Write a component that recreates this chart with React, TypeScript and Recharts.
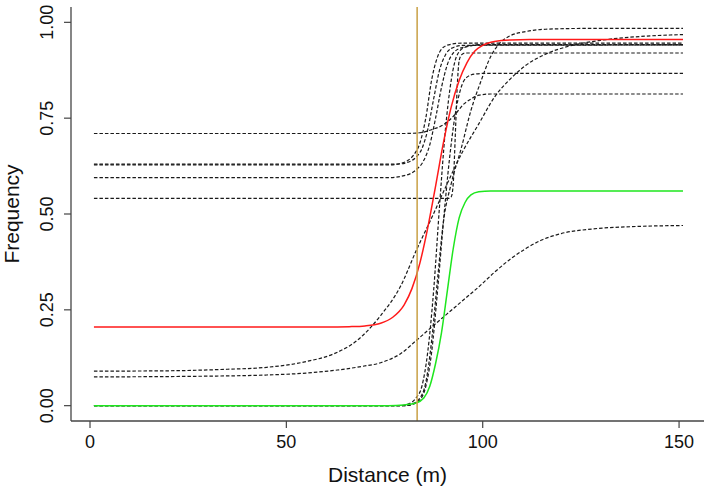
import React from 'react';
import { LineChart, Line, XAxis, YAxis, ReferenceLine, Label } from 'recharts';

type P = [number, number][];

const xTicks = [0, 50, 100, 150];
const yTicks = [0, 0.25, 0.5, 0.75, 1];
const thresholdDistance = 83.3;

// solid curves
const redCurve: P = [
  [1, 0.205], [60, 0.205], [66, 0.206], [70, 0.208], [74, 0.215], [77, 0.23], [80, 0.263],
  [82, 0.306], [84, 0.372], [86, 0.464], [88, 0.573], [90, 0.686], [92, 0.78], [94, 0.848],
  [96, 0.895], [98, 0.925], [100, 0.94], [103, 0.95], [107, 0.954], [112, 0.955], [151, 0.955],
];
const greenCurve: P = [
  [1, 0.0], [76, 0.0], [80, 0.002], [83, 0.007], [85, 0.02], [86.5, 0.05], [88, 0.11],
  [89.5, 0.19], [91, 0.3], [92.5, 0.41], [94, 0.49], [95.5, 0.53], [97, 0.55], [99, 0.558],
  [102, 0.56], [151, 0.56],
];

// dashed curves
const dashA: P = [
  [1, 0.71], [80, 0.71], [84, 0.712], [87, 0.72], [90, 0.733], [93, 0.76], [95, 0.785],
  [97, 0.8], [99, 0.81], [102, 0.813], [151, 0.813],
];
const dashB: P = [
  [1, 0.628], [76, 0.628], [79, 0.632], [81, 0.64], [82.5, 0.655], [84, 0.685], [85.5, 0.75],
  [87, 0.85], [88.5, 0.91], [90, 0.935], [92, 0.943], [95, 0.946], [151, 0.946],
];
const dashC: P = [
  [1, 0.63], [78, 0.63], [81, 0.635], [83, 0.648], [84.5, 0.67], [86, 0.72], [87.5, 0.8],
  [89, 0.875], [90.5, 0.915], [92, 0.932], [95, 0.94], [151, 0.941],
];
const dashD: P = [
  [1, 0.595], [76, 0.595], [80, 0.6], [83, 0.615], [85, 0.64], [86.5, 0.68], [88, 0.75],
  [89.5, 0.83], [91, 0.89], [92.5, 0.92], [95, 0.935], [100, 0.942], [151, 0.942],
];
const dashE: P = [
  [1, 0.541], [91.5, 0.541], [92, 0.545], [92.5, 0.58], [93, 0.7], [93.5, 0.83], [94, 0.9],
  [94.6, 0.915], [95.5, 0.92], [151, 0.92],
];
const dashF: P = [
  [1, 0.0], [80, 0.0], [82, 0.003], [84, 0.015], [85.5, 0.05], [87, 0.14], [88.5, 0.3],
  [90, 0.48], [91.5, 0.64], [93, 0.76], [94.5, 0.83], [96, 0.857], [98, 0.865], [101, 0.867],
  [151, 0.867],
];
const dashG: P = [
  [1, 0.0], [79, 0.0], [81, 0.004], [83, 0.02], [84.5, 0.05], [86, 0.14], [87.5, 0.3],
  [89, 0.52], [90.5, 0.72], [92, 0.85], [93.5, 0.915], [95.5, 0.935], [99, 0.941], [151, 0.941],
];
const dashH: P = [
  [1, 0.0], [80, 0.0], [82, 0.004], [84, 0.02], [85.5, 0.06], [87, 0.17], [88.5, 0.33],
  [90, 0.48], [92, 0.58], [94.5, 0.67], [97, 0.77], [99.5, 0.845], [102, 0.91], [104.5, 0.947],
  [107, 0.965], [111, 0.976], [116, 0.982], [125, 0.984], [151, 0.984],
];
const dashUpperGradual: P = [
  [1, 0.09], [20, 0.091], [35, 0.095], [45, 0.1], [55, 0.115], [62, 0.135], [68, 0.17],
  [74, 0.235], [79, 0.31], [83.3, 0.41], [87, 0.49], [91, 0.58], [95, 0.665], [99, 0.735],
  [103, 0.805], [107, 0.852], [111, 0.888], [116, 0.917], [122, 0.938], [130, 0.953],
  [140, 0.963], [151, 0.968],
];
const dashLowerGradual: P = [
  [1, 0.075], [30, 0.077], [45, 0.08], [55, 0.085], [63, 0.093], [69, 0.102], [74, 0.112],
  [79, 0.135], [83.3, 0.172], [87, 0.205], [91, 0.24], [95, 0.275], [99, 0.31], [103, 0.348],
  [107, 0.382], [111, 0.41], [115, 0.432], [120, 0.449], [128, 0.461], [138, 0.467],
  [151, 0.47],
];

const dashedCurves: P[] = [
  dashA, dashB, dashC, dashD, dashE, dashF, dashG, dashH, dashUpperGradual, dashLowerGradual,
];

const toPts = (arr: P) => arr.map(([x, y]) => ({ x, y }));

const FONT = '"Liberation Sans", Arial, Helvetica, sans-serif';
const AXIS = '#444';
const TEXT = '#111';

const XTick = (props: any) => {
  const { x, y, payload } = props;
  return (
    <text x={x} y={y + 18} textAnchor="middle" fontSize={18} fontFamily={FONT} fill={TEXT}>
      {payload.value}
    </text>
  );
};

const YTick = (props: any) => {
  const { x, y, payload } = props;
  const bx = x - 9;
  return (
    <text
      x={bx}
      y={y}
      transform={`rotate(-90 ${bx} ${y})`}
      textAnchor="middle"
      fontSize={18}
      fontFamily={FONT}
      fill={TEXT}
    >
      {Number(payload.value).toFixed(2)}
    </text>
  );
};

const XTitle = (props: any) => {
  const vb = props.viewBox || { x: 71, y: 421, width: 633, height: 71 };
  const cx = vb.x + vb.width / 2;
  return (
    <text x={cx} y={vb.y + 61} textAnchor="middle" fontSize={21} fontFamily={FONT} fill={TEXT}>
      Distance (m)
    </text>
  );
};

const YTitle = (props: any) => {
  const vb = props.viewBox || { x: 0, y: 7, width: 71, height: 414 };
  const cy = vb.y + vb.height / 2;
  const bx = vb.x + 19;
  return (
    <text
      x={bx}
      y={cy}
      transform={`rotate(-90 ${bx} ${cy})`}
      textAnchor="middle"
      fontSize={21}
      fontFamily={FONT}
      fill={TEXT}
    >
      Frequency
    </text>
  );
};

export default function App() {
  return (
    <div style={{ position: 'absolute', left: 0, top: 0, width: 709, height: 492, background: '#fff' }}>
      <LineChart width={709} height={492} margin={{ top: 7, right: 5, bottom: 0, left: 0 }}>
        <XAxis
          xAxisId="b"
          type="number"
          dataKey="x"
          domain={[-4.84, 156.35]}
          ticks={xTicks}
          allowDataOverflow
          height={71}
          tickSize={7}
          tickLine={{ stroke: AXIS, strokeWidth: 1.2 }}
          axisLine={{ stroke: AXIS, strokeWidth: 1.3 }}
          tick={XTick}
          interval={0}
          label={<Label content={XTitle} />}
        />
        <XAxis
          xAxisId="t"
          orientation="top"
          type="number"
          dataKey="x"
          domain={[-4.84, 156.35]}
          allowDataOverflow
          height={0}
          tick={false}
          tickLine={false}
          axisLine={{ stroke: AXIS, strokeWidth: 1.3 }}
        />
        <YAxis
          yAxisId="l"
          type="number"
          domain={[-0.04, 1.04]}
          ticks={yTicks}
          allowDataOverflow
          width={71}
          tickSize={7}
          tickLine={{ stroke: AXIS, strokeWidth: 1.2 }}
          axisLine={{ stroke: AXIS, strokeWidth: 1.3 }}
          tick={YTick}
          interval={0}
          label={<Label content={YTitle} />}
        />
        <YAxis
          yAxisId="r"
          orientation="right"
          type="number"
          domain={[-0.04, 1.04]}
          allowDataOverflow
          width={0}
          tick={false}
          tickLine={false}
          axisLine={{ stroke: AXIS, strokeWidth: 1.3 }}
        />
        {dashedCurves.map((c, i) => (
          <Line
            key={`d${i}`}
            xAxisId="b"
            yAxisId="l"
            data={toPts(c)}
            dataKey="y"
            type="monotone"
            stroke="#1a1a1a"
            strokeWidth={1.2}
            strokeDasharray="3.5 2"
            dot={false}
            activeDot={false}
            isAnimationActive={false}
          />
        ))}
        <Line
          xAxisId="b"
          yAxisId="l"
          data={toPts(redCurve)}
          dataKey="y"
          type="monotone"
          stroke="#ff1a1a"
          strokeWidth={1.5}
          dot={false}
          activeDot={false}
          isAnimationActive={false}
        />
        <Line
          xAxisId="b"
          yAxisId="l"
          data={toPts(greenCurve)}
          dataKey="y"
          type="monotone"
          stroke="#1ee61e"
          strokeWidth={1.5}
          dot={false}
          activeDot={false}
          isAnimationActive={false}
        />
        <ReferenceLine
          xAxisId="b"
          yAxisId="l"
          x={thresholdDistance}
          stroke="#c9a045"
          strokeWidth={1.5}
        />
      </LineChart>
    </div>
  );
}
